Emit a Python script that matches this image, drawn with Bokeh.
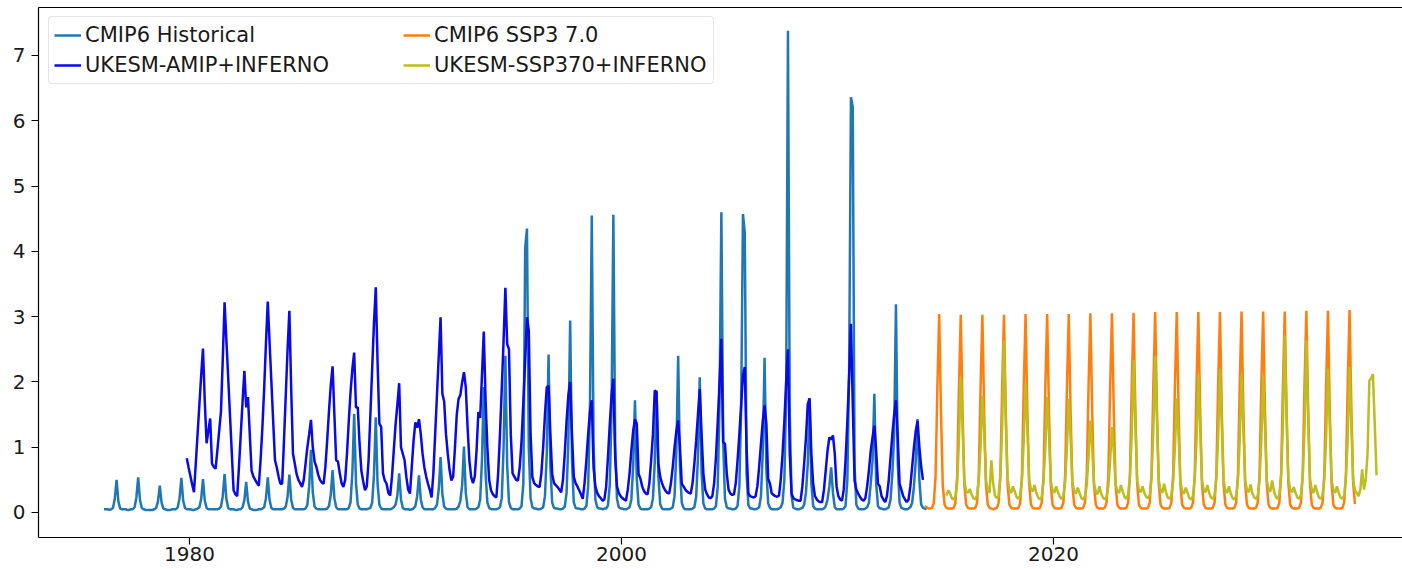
from bokeh.plotting import figure
from bokeh.models import ColumnDataSource, Range1d, FixedTicker, LinearAxis, Legend, LegendItem
from bokeh.embed import file_html
from bokeh.resources import INLINE

# ---------------- data (monthly values, one row per year, Jan..Dec) ----------------
HIST_START = (1976, 1)
HIST = [
    [0.05, 0.05, 0.05, 0.04, 0.05, 0.07, 0.21, 0.50, 0.17, 0.06, 0.05, 0.05],  # 1976
    [0.05, 0.04, 0.04, 0.05, 0.05, 0.08, 0.23, 0.54, 0.19, 0.07, 0.05, 0.04],  # 1977
    [0.04, 0.04, 0.04, 0.04, 0.05, 0.07, 0.17, 0.41, 0.15, 0.06, 0.05, 0.04],  # 1978
    [0.04, 0.04, 0.05, 0.05, 0.05, 0.08, 0.22, 0.53, 0.18, 0.07, 0.05, 0.05],  # 1979
    [0.05, 0.04, 0.04, 0.05, 0.06, 0.08, 0.21, 0.51, 0.18, 0.07, 0.05, 0.05],  # 1980
    [0.05, 0.05, 0.05, 0.05, 0.06, 0.09, 0.25, 0.59, 0.21, 0.07, 0.05, 0.05],  # 1981
    [0.05, 0.04, 0.04, 0.05, 0.05, 0.08, 0.19, 0.47, 0.17, 0.06, 0.05, 0.04],  # 1982
    [0.04, 0.04, 0.05, 0.05, 0.06, 0.08, 0.22, 0.54, 0.19, 0.07, 0.05, 0.05],  # 1983
    [0.05, 0.05, 0.05, 0.05, 0.06, 0.09, 0.24, 0.58, 0.20, 0.07, 0.05, 0.05],  # 1984
    [0.05, 0.05, 0.05, 0.05, 0.06, 0.12, 0.40, 0.96, 0.31, 0.09, 0.06, 0.05],  # 1985
    [0.05, 0.05, 0.05, 0.05, 0.06, 0.10, 0.27, 0.65, 0.22, 0.08, 0.05, 0.05],  # 1986
    [0.05, 0.05, 0.05, 0.05, 0.07, 0.16, 0.62, 1.51, 0.45, 0.12, 0.06, 0.05],  # 1987
    [0.05, 0.05, 0.05, 0.06, 0.07, 0.15, 0.58, 1.46, 0.44, 0.12, 0.06, 0.05],  # 1988
    [0.05, 0.05, 0.05, 0.05, 0.06, 0.08, 0.12, 0.26, 0.60, 0.20, 0.07, 0.05],  # 1989
    [0.05, 0.05, 0.04, 0.05, 0.06, 0.10, 0.25, 0.57, 0.20, 0.08, 0.05, 0.05],  # 1990
    [0.05, 0.05, 0.05, 0.05, 0.07, 0.12, 0.36, 0.85, 0.28, 0.09, 0.06, 0.05],  # 1991
    [0.05, 0.05, 0.05, 0.05, 0.06, 0.09, 0.18, 0.42, 1.01, 0.30, 0.08, 0.05],  # 1992
    [0.05, 0.05, 0.05, 0.06, 0.08, 0.20, 0.80, 1.92, 0.60, 0.15, 0.07, 0.05],  # 1993
    [0.05, 0.05, 0.05, 0.06, 0.08, 0.22, 1.00, 2.40, 0.72, 0.16, 0.07, 0.05],  # 1994
    [0.05, 0.05, 0.05, 0.06, 0.10, 0.45, 4.05, 4.35, 1.00, 0.22, 0.08, 0.06],  # 1995
    [0.06, 0.05, 0.05, 0.06, 0.08, 0.25, 0.90, 2.42, 0.70, 0.15, 0.07, 0.06],  # 1996
    [0.06, 0.05, 0.05, 0.06, 0.09, 0.30, 1.10, 2.94, 0.80, 0.16, 0.07, 0.06],  # 1997
    [0.06, 0.05, 0.05, 0.06, 0.10, 0.40, 1.60, 4.55, 1.00, 0.20, 0.08, 0.06],  # 1998
    [0.06, 0.05, 0.06, 0.06, 0.11, 0.42, 1.55, 4.56, 1.05, 0.21, 0.08, 0.06],  # 1999
    [0.06, 0.05, 0.05, 0.06, 0.08, 0.20, 0.70, 1.72, 0.52, 0.12, 0.06, 0.05],  # 2000
    [0.05, 0.05, 0.05, 0.06, 0.08, 0.22, 0.78, 1.87, 0.56, 0.13, 0.06, 0.05],  # 2001
    [0.05, 0.05, 0.05, 0.06, 0.08, 0.25, 0.95, 2.40, 0.70, 0.15, 0.07, 0.05],  # 2002
    [0.05, 0.05, 0.05, 0.06, 0.08, 0.24, 0.85, 2.07, 0.62, 0.14, 0.06, 0.05],  # 2003
    [0.05, 0.05, 0.05, 0.06, 0.10, 0.40, 1.70, 4.60, 1.10, 0.21, 0.08, 0.06],  # 2004
    [0.06, 0.05, 0.05, 0.06, 0.10, 0.40, 1.60, 4.57, 4.29, 0.60, 0.12, 0.06],  # 2005
    [0.06, 0.05, 0.05, 0.06, 0.08, 0.25, 0.92, 2.37, 0.66, 0.14, 0.07, 0.05],  # 2006
    [0.05, 0.05, 0.05, 0.06, 0.08, 0.15, 0.50, 1.80, 7.38, 1.50, 0.25, 0.07],  # 2007
    [0.06, 0.05, 0.05, 0.06, 0.07, 0.12, 0.30, 0.75, 1.75, 0.45, 0.10, 0.06],  # 2008
    [0.05, 0.05, 0.05, 0.05, 0.06, 0.10, 0.20, 0.40, 0.69, 0.30, 0.08, 0.05],  # 2009
    [0.05, 0.05, 0.05, 0.06, 0.10, 0.50, 2.20, 6.36, 6.21, 0.70, 0.12, 0.06],  # 2010
    [0.05, 0.05, 0.05, 0.06, 0.08, 0.15, 0.45, 0.80, 1.82, 0.45, 0.10, 0.06],  # 2011
    [0.06, 0.05, 0.05, 0.06, 0.08, 0.20, 0.60, 1.20, 3.19, 0.75, 0.15, 0.07],  # 2012
    [0.06, 0.05, 0.05, 0.06, 0.08, 0.15, 0.40, 0.80, 1.43, 0.50, 0.12, 0.07],  # 2013
    [0.06, 0.05],                                                              # 2014
]

AMIP_START = (1979, 11)
AMIP = [
    [0.83, 0.69],                                                              # 1979 Nov-Dec
    [0.56, 0.43, 0.31, 0.75, 1.20, 1.65, 2.10, 2.51, 1.70, 1.06, 1.25, 1.44],  # 1980
    [0.75, 0.70, 0.67, 0.95, 1.25, 1.55, 2.35, 3.22, 2.64, 2.07, 1.49, 0.92],  # 1981
    [0.34, 0.28, 0.25, 0.70, 1.20, 1.70, 2.17, 1.61, 1.77, 1.20, 0.64, 0.55],  # 1982
    [0.50, 0.45, 0.41, 0.80, 1.30, 1.90, 2.60, 3.23, 2.60, 2.00, 1.40, 0.80],  # 1983
    [0.69, 0.55, 0.44, 0.44, 1.10, 1.80, 2.50, 3.09, 1.90, 0.90, 0.75, 0.59],  # 1984
    [0.50, 0.45, 0.39, 0.50, 0.75, 1.00, 1.20, 1.42, 1.00, 0.78, 0.70, 0.58],  # 1985
    [0.50, 0.46, 0.44, 0.70, 1.10, 1.55, 1.95, 2.24, 1.50, 0.80, 0.78, 0.60],  # 1986
    [0.45, 0.39, 0.50, 0.90, 1.40, 1.85, 2.20, 2.45, 1.61, 1.61, 1.05, 0.64],  # 1987
    [0.48, 0.34, 0.40, 0.80, 1.50, 2.20, 2.90, 3.45, 2.30, 1.36, 1.31, 0.60],  # 1988
    [0.49, 0.44, 0.30, 0.26, 0.55, 0.95, 1.35, 1.65, 1.98, 1.00, 0.90, 0.80],  # 1989
    [0.54, 0.35, 0.29, 0.70, 1.10, 1.38, 1.30, 1.43, 1.20, 0.90, 0.69, 0.55],  # 1990
    [0.44, 0.35, 0.23, 0.60, 1.20, 1.80, 2.40, 2.99, 1.82, 1.70, 1.20, 0.90],  # 1991
    [0.65, 0.49, 0.55, 1.00, 1.50, 1.74, 1.80, 2.00, 2.15, 1.92, 1.31, 0.80],  # 1992
    [0.54, 0.45, 0.55, 0.95, 1.54, 1.45, 2.10, 2.77, 1.72, 1.00, 0.50, 0.34],  # 1993
    [0.28, 0.25, 0.23, 0.60, 1.20, 1.90, 2.63, 3.44, 2.58, 2.50, 1.20, 0.60],  # 1994
    [0.55, 0.50, 0.49, 0.70, 1.10, 1.70, 2.33, 2.99, 2.79, 1.20, 0.54, 0.45],  # 1995
    [0.42, 0.40, 0.39, 0.60, 1.00, 1.50, 1.92, 1.94, 1.20, 0.59, 0.45, 0.42],  # 1996
    [0.39, 0.35, 0.31, 0.50, 0.90, 1.40, 1.80, 2.00, 1.20, 0.55, 0.45, 0.40],  # 1997
    [0.34, 0.28, 0.21, 0.45, 0.80, 1.20, 1.55, 1.72, 0.69, 0.40, 0.30, 0.25],  # 1998
    [0.22, 0.18, 0.20, 0.40, 0.85, 1.35, 1.80, 2.05, 0.85, 0.40, 0.30, 0.25],  # 1999
    [0.22, 0.20, 0.18, 0.35, 0.60, 0.95, 1.25, 1.43, 1.36, 0.59, 0.52, 0.40],  # 2000
    [0.33, 0.29, 0.28, 0.45, 0.80, 1.20, 1.87, 1.84, 0.75, 0.55, 0.45, 0.38],  # 2001
    [0.33, 0.30, 0.29, 0.45, 0.70, 1.00, 1.25, 1.41, 1.00, 0.44, 0.40, 0.35],  # 2002
    [0.32, 0.30, 0.29, 0.45, 0.75, 1.10, 1.50, 1.89, 1.20, 0.60, 0.35, 0.28],  # 2003
    [0.23, 0.22, 0.25, 0.45, 0.85, 1.40, 2.00, 2.66, 1.08, 1.05, 0.60, 0.35],  # 2004
    [0.29, 0.27, 0.28, 0.45, 0.80, 1.20, 1.65, 2.10, 2.23, 1.00, 0.29, 0.25],  # 2005
    [0.24, 0.23, 0.25, 0.40, 0.70, 1.05, 1.40, 1.64, 1.36, 0.52, 0.44, 0.29],  # 2006
    [0.27, 0.25, 0.24, 0.26, 0.50, 0.90, 1.40, 2.00, 2.50, 0.90, 0.29, 0.22],  # 2007
    [0.20, 0.19, 0.18, 0.18, 0.40, 0.75, 1.15, 1.66, 1.75, 0.90, 0.44, 0.25],  # 2008
    [0.20, 0.17, 0.16, 0.16, 0.35, 0.65, 0.95, 1.15, 1.12, 1.18, 0.90, 0.40],  # 2009
    [0.25, 0.20, 0.18, 0.35, 0.80, 1.40, 2.10, 2.89, 1.66, 0.49, 0.35, 0.29],  # 2010
    [0.24, 0.20, 0.18, 0.22, 0.40, 0.65, 0.95, 1.15, 1.33, 0.95, 0.44, 0.40],  # 2011
    [0.25, 0.20, 0.16, 0.25, 0.50, 0.85, 1.20, 1.50, 1.72, 1.15, 0.44, 0.35],  # 2012
    [0.25, 0.20, 0.16, 0.20, 0.40, 0.70, 1.00, 1.25, 1.40, 1.00, 0.70, 0.50],  # 2013
]

SSP3_START = (2014, 1)
SSP3 = [
    [0.10, 0.08, 0.06, 0.06, 0.07, 0.14, 0.55, 1.90, 3.04, 1.55, 0.42, 0.12],  # 2014
    [0.07, 0.06, 0.06, 0.06, 0.07, 0.14, 0.56, 1.92, 3.03, 1.56, 0.42, 0.12],  # 2015
    [0.07, 0.06, 0.06, 0.06, 0.07, 0.14, 0.55, 1.91, 3.03, 1.55, 0.42, 0.12],  # 2016
    [0.07, 0.06, 0.05, 0.06, 0.07, 0.14, 0.56, 1.92, 3.03, 1.56, 0.43, 0.12],  # 2017
    [0.07, 0.06, 0.06, 0.06, 0.07, 0.14, 0.56, 1.93, 3.04, 1.56, 0.43, 0.12],  # 2018
    [0.07, 0.06, 0.06, 0.06, 0.07, 0.15, 0.56, 1.93, 3.04, 1.57, 0.43, 0.12],  # 2019
    [0.07, 0.06, 0.06, 0.06, 0.07, 0.15, 0.57, 1.93, 3.04, 1.57, 0.43, 0.12],  # 2020
    [0.07, 0.06, 0.06, 0.06, 0.07, 0.15, 0.57, 1.94, 3.05, 1.57, 0.43, 0.12],  # 2021
    [0.07, 0.06, 0.06, 0.06, 0.07, 0.15, 0.57, 1.94, 3.05, 1.58, 0.43, 0.12],  # 2022
    [0.07, 0.06, 0.06, 0.06, 0.07, 0.15, 0.57, 1.95, 3.06, 1.58, 0.44, 0.12],  # 2023
    [0.07, 0.06, 0.06, 0.06, 0.07, 0.15, 0.58, 1.95, 3.07, 1.58, 0.44, 0.12],  # 2024
    [0.07, 0.06, 0.06, 0.06, 0.07, 0.15, 0.58, 1.96, 3.07, 1.59, 0.44, 0.12],  # 2025
    [0.07, 0.06, 0.06, 0.06, 0.07, 0.15, 0.58, 1.96, 3.07, 1.59, 0.44, 0.12],  # 2026
    [0.07, 0.06, 0.06, 0.06, 0.07, 0.15, 0.58, 1.96, 3.07, 1.59, 0.44, 0.12],  # 2027
    [0.07, 0.06, 0.06, 0.06, 0.07, 0.15, 0.58, 1.97, 3.08, 1.59, 0.44, 0.12],  # 2028
    [0.07, 0.06, 0.06, 0.06, 0.07, 0.15, 0.58, 1.97, 3.08, 1.60, 0.44, 0.12],  # 2029
    [0.07, 0.06, 0.06, 0.06, 0.07, 0.15, 0.59, 1.97, 3.08, 1.60, 0.45, 0.12],  # 2030
    [0.07, 0.06, 0.06, 0.06, 0.07, 0.15, 0.59, 1.98, 3.09, 1.60, 0.45, 0.12],  # 2031
    [0.07, 0.06, 0.06, 0.06, 0.07, 0.15, 0.59, 1.98, 3.09, 1.61, 0.45, 0.12],  # 2032
    [0.07, 0.06, 0.06, 0.06, 0.07, 0.15, 0.59, 1.99, 3.10, 1.61, 0.45, 0.13],  # 2033
]

SSP370_START = (2015, 1)
SSP370 = [
    [0.26, 0.34, 0.30, 0.22, 0.20, 0.24, 0.45, 1.10, 2.07, 1.30, 0.48, 0.33],  # 2015
    [0.30, 0.36, 0.28, 0.22, 0.20, 0.26, 0.50, 1.00, 1.79, 1.25, 0.50, 0.34],  # 2016
    [0.30, 0.80, 0.45, 0.26, 0.22, 0.25, 0.55, 1.30, 2.63, 1.40, 0.52, 0.35],  # 2017
    [0.30, 0.40, 0.32, 0.24, 0.21, 0.26, 0.50, 1.10, 1.97, 1.30, 0.50, 0.36],  # 2018
    [0.32, 0.42, 0.30, 0.23, 0.20, 0.24, 0.48, 1.00, 1.77, 1.20, 0.48, 0.34],  # 2019
    [0.30, 0.40, 0.31, 0.24, 0.21, 0.26, 0.47, 1.00, 1.74, 1.15, 0.46, 0.33],  # 2020
    [0.29, 0.38, 0.30, 0.22, 0.20, 0.25, 0.42, 0.85, 1.41, 1.00, 0.45, 0.32],  # 2021
    [0.28, 0.40, 0.29, 0.23, 0.20, 0.24, 0.40, 0.80, 1.31, 0.95, 0.44, 0.33],  # 2022
    [0.30, 0.42, 0.32, 0.24, 0.21, 0.27, 0.55, 1.20, 2.33, 1.35, 0.50, 0.35],  # 2023
    [0.31, 0.40, 0.30, 0.24, 0.22, 0.27, 0.55, 1.25, 2.40, 1.40, 0.50, 0.34],  # 2024
    [0.30, 0.44, 0.31, 0.23, 0.21, 0.26, 0.48, 1.00, 1.75, 1.20, 0.48, 0.33],  # 2025
    [0.29, 0.38, 0.30, 0.22, 0.20, 0.25, 0.50, 1.10, 2.10, 1.30, 0.50, 0.35],  # 2026
    [0.31, 0.42, 0.30, 0.23, 0.21, 0.26, 0.52, 1.15, 2.20, 1.35, 0.50, 0.34],  # 2027
    [0.30, 0.40, 0.29, 0.22, 0.20, 0.25, 0.50, 1.10, 2.10, 1.30, 0.49, 0.35],  # 2028
    [0.31, 0.43, 0.30, 0.23, 0.21, 0.26, 0.50, 1.10, 2.10, 1.30, 0.50, 0.35],  # 2029
    [0.32, 0.49, 0.33, 0.24, 0.21, 0.27, 0.58, 1.35, 2.71, 1.45, 0.52, 0.36],  # 2030
    [0.31, 0.39, 0.30, 0.23, 0.21, 0.27, 0.56, 1.30, 2.63, 1.45, 0.52, 0.35],  # 2031
    [0.30, 0.42, 0.31, 0.23, 0.21, 0.26, 0.52, 1.15, 2.20, 1.35, 0.50, 0.35],  # 2032
    [0.30, 0.40, 0.30, 0.23, 0.21, 0.26, 0.52, 1.15, 2.23, 1.35, 0.50, 0.34],  # 2033
    [0.30, 0.25, 0.35, 0.66, 0.35, 0.50, 0.90, 2.02, 2.05, 2.12, 1.35, 0.57],  # 2034
]

LABELS = ["CMIP6 Historical", "UKESM-AMIP+INFERNO", "CMIP6 SSP3 7.0", "UKESM-SSP370+INFERNO"]
COLORS = ["#1f77b4", "#0a0ae6", "#ff7f0e", "#bcbd22"]
X_TICKS = [1980, 2000, 2020]
Y_TICKS = [0, 1, 2, 3, 4, 5, 6, 7]

FONT = "DejaVu Sans"
TEXT_COLOR = "#1a1a1a"


def month_times(start, n):
    y0, m0 = start
    return [y0 + (m0 - 1 + i + 0.5) / 12.0 for i in range(n)]


def series(start, rows):
    vals = [v for r in rows for v in r]
    return ColumnDataSource(data=dict(t=month_times(start, len(vals)), v=vals))


p = figure(width=1402, height=569, output_backend="svg", toolbar_location=None,
           x_range=Range1d(1973.01, 2036.16), y_range=Range1d(-0.383, 7.735),
           x_axis_type=None, y_axis_type=None,
           min_border_left=38, min_border_right=0, min_border_top=7, min_border_bottom=32)
p.outline_line_color = None
p.background_fill_color = "white"
p.border_fill_color = "white"

LW = 2.5
r_hist = p.line("t", "v", source=series(HIST_START, HIST), line_color=COLORS[0], line_width=LW)
r_amip = p.line("t", "v", source=series(AMIP_START, AMIP), line_color=COLORS[1], line_width=LW)
r_ssp3 = p.line("t", "v", source=series(SSP3_START, SSP3), line_color=COLORS[2], line_width=LW)
r_ssp370 = p.line("t", "v", source=series(SSP370_START, SSP370), line_color=COLORS[3], line_width=LW)


def style_axis(ax, tick_out, standoff):
    ax.axis_line_color = "black"
    ax.axis_line_width = 1.2
    ax.major_tick_line_color = "black"
    ax.major_tick_line_width = 1.2
    ax.major_tick_out = tick_out
    ax.major_tick_in = 0
    ax.minor_tick_line_color = None
    ax.major_label_text_font = FONT
    ax.major_label_text_font_size = "20px"
    ax.major_label_text_color = TEXT_COLOR
    ax.major_label_standoff = standoff


xax = LinearAxis(ticker=FixedTicker(ticks=X_TICKS))
style_axis(xax, 7, 2)
p.add_layout(xax, "below")

yax = LinearAxis(ticker=FixedTicker(ticks=Y_TICKS))
style_axis(yax, 7, 6)
p.add_layout(yax, "left")

top = LinearAxis(ticker=FixedTicker(ticks=[]))
top.axis_line_color = "black"
top.axis_line_width = 1.2
top.major_tick_out = 0
top.major_tick_in = 0
top.minor_tick_out = 0
top.minor_tick_in = 0
top.major_label_standoff = 0
top.major_label_text_font_size = "0px"
p.add_layout(top, "above")

common = dict(padding=5, spacing=4, glyph_width=27, glyph_height=24, label_standoff=4,
              label_height=26, label_text_font=FONT, label_text_font_size="21px",
              label_text_color=TEXT_COLOR)

legA = Legend(items=[LegendItem(label=LABELS[0], renderers=[r_hist]),
                     LegendItem(label=LABELS[1], renderers=[r_amip])],
              location=(10, 453), label_width=623,
              border_line_color="#cccccc", border_line_width=1,
              background_fill_color="white", background_fill_alpha=0.85, **common)
if "border_radius" in Legend.properties():
    legA.border_radius = 4
legB = Legend(items=[LegendItem(label=LABELS[2], renderers=[r_ssp3]),
                     LegendItem(label=LABELS[3], renderers=[r_ssp370])],
              location=(365, 459), border_line_color=None,
              background_fill_alpha=0.0, **common)
p.add_layout(legA, "center")
p.add_layout(legB, "center")

open("out.html", "w").write(file_html(p, INLINE))
